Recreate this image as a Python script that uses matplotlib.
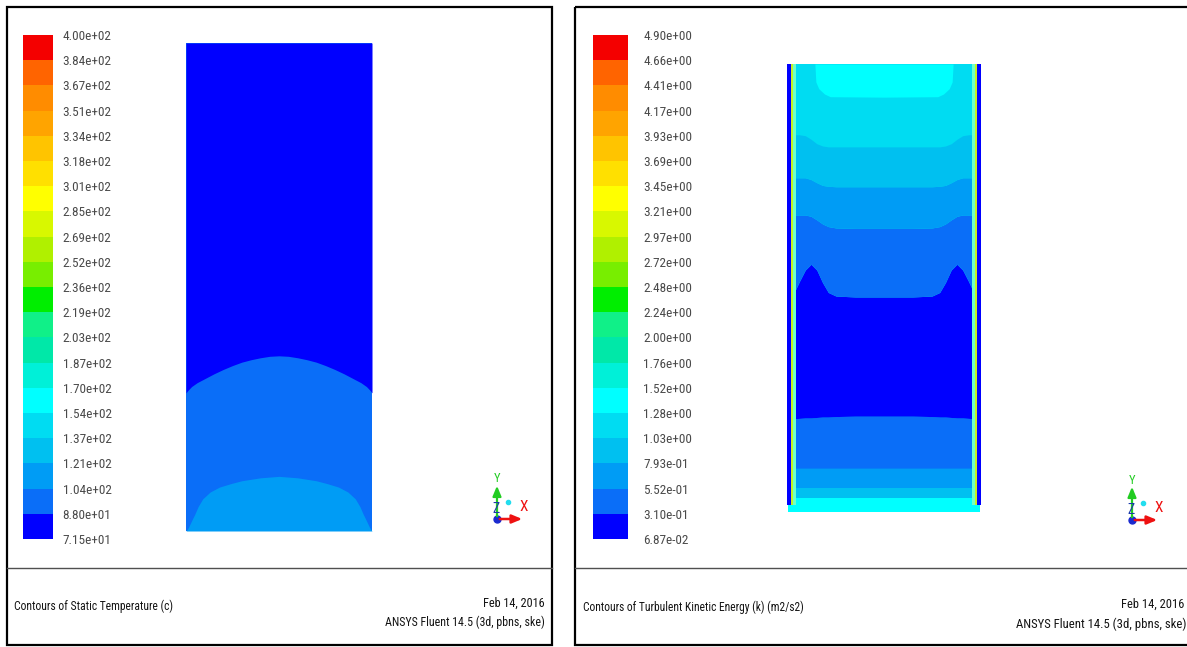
import matplotlib
matplotlib.use("Agg")
import matplotlib.pyplot as plt
from matplotlib import font_manager as fm
from matplotlib.colors import ListedColormap, BoundaryNorm
from matplotlib.cm import ScalarMappable
from matplotlib.patches import Rectangle

# ---------------- data ----------------
band_colors = ["#0000FF", "#0A6EF8", "#009CF5", "#00C0F0", "#00DCF2",
               "#00FFFF", "#00F0D8", "#00E8A8", "#10F088", "#00EE00",
               "#78EE00", "#B0F000", "#D8F800", "#FFFF00", "#FFE000",
               "#FFC400", "#FFA400", "#FF8C00", "#FF6400", "#F40000"]

temp_labels = ["7.15e+01", "8.80e+01", "1.04e+02", "1.21e+02", "1.37e+02",
               "1.54e+02", "1.70e+02", "1.87e+02", "2.03e+02", "2.19e+02",
               "2.36e+02", "2.52e+02", "2.69e+02", "2.85e+02", "3.01e+02",
               "3.18e+02", "3.34e+02", "3.51e+02", "3.67e+02", "3.84e+02",
               "4.00e+02"]
temp_levels = [float(s) for s in temp_labels]

tke_labels = ["6.87e-02", "3.10e-01", "5.52e-01", "7.93e-01", "1.03e+00",
              "1.28e+00", "1.52e+00", "1.76e+00", "2.00e+00", "2.24e+00",
              "2.48e+00", "2.72e+00", "2.97e+00", "3.21e+00", "3.45e+00",
              "3.69e+00", "3.93e+00", "4.17e+00", "4.41e+00", "4.66e+00",
              "4.90e+00"]
tke_levels = [float(s) for s in tke_labels]

# Static temperature: contour boundaries (normalised width / height)
temp_upper_x = [0.0, 0.01, 0.03, 0.06, 0.1, 0.15, 0.2, 0.25, 0.3, 0.35, 0.4, 0.45, 0.5,
                0.55, 0.6, 0.65, 0.7, 0.75, 0.8, 0.85, 0.9, 0.94, 0.97, 0.99, 1.0]
temp_upper_y = [0.283, 0.288, 0.296, 0.304, 0.312, 0.322, 0.331, 0.339, 0.346, 0.351,
                0.355, 0.358, 0.359, 0.358, 0.355, 0.351, 0.346, 0.339, 0.331, 0.322,
                0.312, 0.304, 0.296, 0.288, 0.283]
temp_lower_x = [0.0, 0.006, 0.014, 0.025, 0.035, 0.048, 0.065, 0.09, 0.13, 0.18, 0.24,
                0.3, 0.4, 0.5, 0.6, 0.7, 0.76, 0.82, 0.87, 0.91, 0.935, 0.952, 0.965,
                0.975, 0.986, 0.994, 1.0]
temp_lower_y = [0.0, 0.003, 0.008, 0.017, 0.025, 0.035, 0.050, 0.066, 0.080, 0.090,
                0.097, 0.103, 0.109, 0.112, 0.109, 0.103, 0.097, 0.090, 0.080, 0.066,
                0.050, 0.035, 0.025, 0.017, 0.008, 0.003, 0.0]
temp_bands = [0, 1, 2]   # top, middle, bottom region band index

# Turbulent kinetic energy: contour boundaries
tke_x = [0.0, 0.03, 0.06, 0.09, 0.12, 0.15, 0.18, 0.21, 0.25, 0.35, 0.5,
         0.65, 0.75, 0.79, 0.82, 0.85, 0.88, 0.91, 0.94, 0.97, 1.0]
tke_b01 = [0.207, 0.208, 0.209, 0.21, 0.21, 0.211, 0.212, 0.212, 0.213, 0.214, 0.214,
           0.214, 0.213, 0.212, 0.212, 0.211, 0.21, 0.21, 0.209, 0.208, 0.207]
tke_b10 = [0.470, 0.488, 0.515, 0.540, 0.553, 0.540, 0.512, 0.490, 0.482, 0.480, 0.480,
           0.480, 0.482, 0.490, 0.512, 0.540, 0.553, 0.540, 0.515, 0.488, 0.470]
tke_b21 = [0.663, 0.663, 0.663, 0.663, 0.660, 0.652, 0.643, 0.637, 0.634, 0.633, 0.633,
           0.633, 0.634, 0.637, 0.643, 0.652, 0.660, 0.663, 0.663, 0.663, 0.663]
tke_b32 = [0.746, 0.746, 0.746, 0.746, 0.742, 0.735, 0.729, 0.727, 0.726, 0.726, 0.726,
           0.726, 0.726, 0.727, 0.729, 0.735, 0.742, 0.746, 0.746, 0.746, 0.746]
tke_b43 = [0.842, 0.842, 0.842, 0.840, 0.832, 0.822, 0.817, 0.815, 0.815, 0.815, 0.815,
           0.815, 0.815, 0.815, 0.817, 0.822, 0.832, 0.840, 0.842, 0.842, 0.842]
tke_top_x = [0.0, 0.14, 0.145, 0.16, 0.19, 0.22, 0.5, 0.78, 0.81, 0.84, 0.855, 0.86, 1.0]
tke_top_y = [1.0, 1.0, 0.96, 0.945, 0.933, 0.927, 0.926, 0.927, 0.933, 0.945, 0.96, 1.0, 1.0]
tke_bottom_levels = [0.0, 0.031, 0.054, 0.098]
tke_bottom_bands = [5, 3, 2]
# wall strips: (x0, x1, colour)
tke_walls = [(-0.004, 0.016, "#0000FF"), (0.016, 0.026, "#C8F020"), (0.026, 0.040, "#70FFC8"),
             (0.960, 0.974, "#70FFC8"), (0.974, 0.984, "#C8F020"), (0.984, 1.004, "#0000FF")]


# ---------------- font (narrow sans if available) ----------------
def pick_font():
    fl = fm.fontManager.ttflist
    names = {f.name for f in fl}
    for want in ["Liberation Sans Narrow", "Arial Narrow", "Roboto Condensed",
                 "Noto Sans Condensed", "Open Sans Condensed", "DejaVu Sans Condensed"]:
        if want in names:
            return dict(family=want), 1.0
    for fam in ["Noto Sans", "DejaVu Sans", "Open Sans", "Roboto", "Inter"]:
        for f in fl:
            if f.name == fam and str(f.stretch) in ("condensed", "semi-condensed", "extra-condensed"):
                return dict(family=fam, stretch=f.stretch), 0.95
    return dict(family="Liberation Sans"), 0.82


FONT, SCALE = pick_font()
plt.rcParams['font.family'] = [FONT["family"], "DejaVu Sans"]
if "stretch" in FONT:
    plt.rcParams['font.stretch'] = FONT["stretch"]

W, H = 1187, 647
fig = plt.figure(figsize=(W / 100, H / 100), dpi=100)
fig.patch.set_facecolor("white")

cmap = ListedColormap(band_colors)

# background / frame axes in pixel coordinates
bg = fig.add_axes([0, 0, 1, 1])
bg.set_xlim(0, W)
bg.set_ylim(H, 0)
bg.axis("off")

for (x0, x1) in [(7, 552), (575, 1192)]:
    bg.add_patch(Rectangle((x0, 7), x1 - x0, 638, fill=False, lw=1.6, ec="black"))
    bg.plot([x0, x1], [568, 568], color="#505050", lw=1.0)

tc = "#141414"
bg.text(14, 606, "Contours of Static Temperature (c)", ha="left", va="center",
        color=tc, fontsize=8.4 * SCALE)
bg.text(545, 603, "Feb 14, 2016", ha="right", va="center", color=tc, fontsize=8.8 * SCALE)
bg.text(545, 622, "ANSYS Fluent 14.5 (3d, pbns, ske)", ha="right", va="center",
        color=tc, fontsize=8.6 * SCALE)
bg.text(583, 607, "Contours of Turbulent Kinetic Energy (k) (m2/s2)", ha="left", va="center",
        color=tc, fontsize=8.3 * SCALE)
bg.text(1184, 604, "Feb 14, 2016", ha="right", va="center", color=tc, fontsize=9.0 * SCALE)
bg.text(1186, 624, "ANSYS Fluent 14.5 (3d, pbns, ske)", ha="right", va="center",
        color=tc, fontsize=9.2 * SCALE)


def triad(ax, x, y):
    ax.annotate("", xy=(x, y - 36), xytext=(x, y),
                arrowprops=dict(arrowstyle="-|>,head_width=0.25,head_length=0.6",
                                color="#22CC22", lw=1.6))
    ax.annotate("", xy=(x + 28, y), xytext=(x, y),
                arrowprops=dict(arrowstyle="-|>,head_width=0.25,head_length=0.6",
                                color="#EE1111", lw=1.8))
    ax.text(x, y - 40, "Y", color="#22CC22", fontsize=9, ha="center", va="center")
    ax.text(x + 27, y - 12, "X", color="#EE1111", fontsize=11, ha="center", va="center")
    ax.text(x - 1, y - 10, "Z", color="#1A3AAA", fontsize=10, ha="center", va="center")
    ax.plot([x], [y], "o", color="#1A2AD0", ms=5)
    ax.plot([x + 11], [y - 17], "o", color="#22DDEE", ms=3)


triad(bg, 497, 519)
triad(bg, 1132, 520)


# colorbars
def colorbar(rect, levels, labels, pad):
    cax = fig.add_axes([rect[0] / W, 1 - rect[3] / H, (rect[2] - rect[0]) / W,
                        (rect[3] - rect[1]) / H])
    norm = BoundaryNorm(levels, len(band_colors))
    cb = fig.colorbar(ScalarMappable(norm=norm, cmap=cmap), cax=cax, ticks=levels)
    cb.set_ticklabels(labels)
    cb.outline.set_visible(False)
    cax.tick_params(length=0, pad=pad, labelsize=9.5 * SCALE, labelcolor="#4a4a4a")


colorbar((23, 35, 53, 539), temp_levels, temp_labels, 7)
colorbar((593, 35, 628, 539), tke_levels, tke_labels, 11)

# static temperature domain
axT = fig.add_axes([186 / W, 1 - 531 / H, 186 / W, 488 / H])
axT.set_xlim(0, 1)
axT.set_ylim(0, 1)
axT.axis("off")
axT.fill_between([0, 1], 0, 1, color=band_colors[temp_bands[1]], lw=0)
axT.fill_between(temp_upper_x, temp_upper_y, 1, color=band_colors[temp_bands[0]], lw=0)
axT.fill_between(temp_lower_x, 0, temp_lower_y, color=band_colors[temp_bands[2]], lw=0)

# TKE domain
axK = fig.add_axes([788 / W, 1 - 512 / H, 192 / W, 448 / H])
axK.set_xlim(0, 1)
axK.set_ylim(0, 1)
axK.axis("off")
axK.fill_between([0, 1], 0, 1, color=band_colors[4], lw=0)
for i in range(3):
    axK.fill_between([0, 1], tke_bottom_levels[i], tke_bottom_levels[i + 1],
                     color=band_colors[tke_bottom_bands[i]], lw=0)
axK.fill_between(tke_x, tke_bottom_levels[3], tke_b01, color=band_colors[1], lw=0)
axK.fill_between(tke_x, tke_b01, tke_b10, color=band_colors[0], lw=0)
axK.fill_between(tke_x, tke_b10, tke_b21, color=band_colors[1], lw=0)
axK.fill_between(tke_x, tke_b21, tke_b32, color=band_colors[2], lw=0)
axK.fill_between(tke_x, tke_b32, tke_b43, color=band_colors[3], lw=0)
axK.fill_between(tke_top_x, tke_top_y, 1, color=band_colors[5], lw=0)
for (x0, x1, c) in tke_walls:
    coll = axK.fill_between([x0, x1], tke_bottom_levels[1] * 0.5, 1, color=c, lw=0)
    coll.set_clip_on(False)

fig.savefig("out.png", dpi=100, facecolor="white")
